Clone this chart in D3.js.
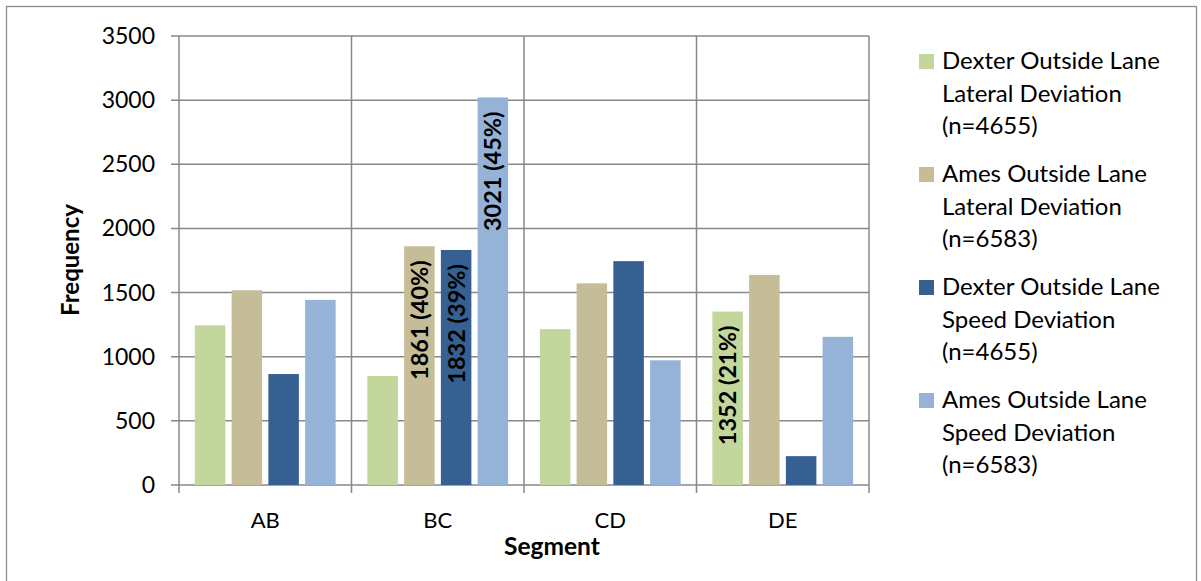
<!DOCTYPE html>
<html>
<head>
<meta charset="utf-8">
<script src="https://cdn.jsdelivr.net/npm/d3@7"></script>
<style>
  html, body { margin: 0; padding: 0; background: #fff; }
  svg { display: block; font-family: Lato, "Open Sans", sans-serif; }
</style>
</head>
<body>
<svg id="chart" width="1201" height="581"></svg>
<script>
const categories = ["AB", "BC", "CD", "DE"];
const seriesNames = [
  ["Dexter Outside Lane", "Lateral Deviation", "(n=4655)"],
  ["Ames Outside Lane", "Lateral Deviation", "(n=6583)"],
  ["Dexter Outside Lane", "Speed Deviation", "(n=4655)"],
  ["Ames Outside Lane", "Speed Deviation", "(n=6583)"]
];
const dexterLateral = [1245, 850, 1215, 1352];
const amesLateral = [1518, 1861, 1572, 1638];
const dexterSpeed = [865, 1832, 1745, 225];
const amesSpeed = [1443, 3021, 972, 1155];
const seriesValues = [dexterLateral, amesLateral, dexterSpeed, amesSpeed];
const seriesColors = ["#c3d69b", "#c4bd97", "#376092", "#95b3d7"];
// data labels: [seriesIndex, categoryIndex, text]
const dataLabels = [
  [1, 1, "1861 (40%)"],
  [2, 1, "1832 (39%)"],
  [3, 1, "3021 (45%)"],
  [0, 3, "1352 (21%)"]
];
const yTicks = [0, 500, 1000, 1500, 2000, 2500, 3000, 3500];

const svg = d3.select("#chart");
const plot = { left: 179, right: 869, top: 36, bottom: 485 };
const gridColor = "#888888";

// outer border
svg.append("rect")
  .attr("x", 6.5).attr("y", 6.5)
  .attr("width", 1190).attr("height", 600)
  .attr("fill", "none").attr("stroke", "#8c8c8c").attr("stroke-width", 1.3);

const y = d3.scaleLinear().domain([0, 3500]).range([plot.bottom, plot.top]);
const x0 = d3.scaleBand().domain(categories).range([plot.left, plot.right]).padding(0);
const x1 = d3.scaleBand().domain(d3.range(4)).range([0, x0.bandwidth()])
  .paddingInner(0.17).paddingOuter(0.432);

// horizontal gridlines with ticks
svg.append("g").selectAll("line").data(yTicks).join("line")
  .attr("x1", plot.left - 8).attr("x2", plot.right)
  .attr("y1", d => y(d)).attr("y2", d => y(d))
  .attr("stroke", gridColor).attr("stroke-width", 1.5);

// vertical category lines (incl. ticks below axis)
const bounds = categories.map(c => x0(c)).concat([plot.right]);
svg.append("g").selectAll("line").data(bounds).join("line")
  .attr("x1", d => d).attr("x2", d => d)
  .attr("y1", plot.top).attr("y2", plot.bottom + 8)
  .attr("stroke", gridColor).attr("stroke-width", 1.5);

// y tick labels
svg.append("g").selectAll("text").data(yTicks).join("text")
  .attr("x", 155).attr("y", d => y(d) + 8)
  .attr("text-anchor", "end")
  .attr("font-size", 23).attr("fill", "#000")
  .text(d => d);

// bars
const groups = svg.append("g").selectAll("g").data(categories).join("g")
  .attr("transform", c => `translate(${x0(c)},0)`);
groups.selectAll("rect").data((c, ci) => seriesValues.map((vals, si) => ({ si, v: vals[ci] })))
  .join("rect")
  .attr("x", d => x1(d.si))
  .attr("width", x1.bandwidth())
  .attr("y", d => y(d.v))
  .attr("height", d => y(0) - y(d.v))
  .attr("fill", d => seriesColors[d.si]);

// data labels (rotated, inside end)
svg.append("g").selectAll("text").data(dataLabels).join("text")
  .attr("transform", d => {
    const cx = x0(categories[d[1]]) + x1(d[0]) + x1.bandwidth() / 2;
    const top = y(seriesValues[d[0]][d[1]]);
    return `translate(${cx + 8.5},${top + 14}) rotate(-90)`;
  })
  .attr("text-anchor", "end")
  .attr("font-size", 23.5).attr("font-weight", "bold").attr("fill", "#000")
  .text(d => d[2]);

// x category labels
svg.append("g").selectAll("text").data(categories).join("text")
  .attr("x", c => x0(c) + x0.bandwidth() / 2).attr("y", 528)
  .attr("text-anchor", "middle").attr("font-size", 22).attr("fill", "#000")
  .text(c => c);

// axis titles
svg.append("text").attr("x", 552).attr("y", 555)
  .attr("text-anchor", "middle").attr("font-size", 24.5).attr("font-weight", "bold")
  .text("Segment");
svg.append("text").attr("transform", "translate(79,260) rotate(-90)")
  .attr("text-anchor", "middle").attr("font-size", 24).attr("font-weight", "bold")
  .text("Frequency");

// legend
const legend = svg.append("g").selectAll("g").data(seriesNames).join("g")
  .attr("transform", (d, i) => `translate(919,${69 + i * 113})`);
legend.append("rect").attr("x", 0).attr("y", -15).attr("width", 15).attr("height", 15)
  .attr("fill", (d, i) => seriesColors[i]);
legend.selectAll("text").data(d => d).join("text")
  .attr("x", 23).attr("y", (d, j) => j * 32.7)
  .attr("font-size", 24).attr("fill", "#000")
  .text(d => d);
</script>
</body>
</html>
